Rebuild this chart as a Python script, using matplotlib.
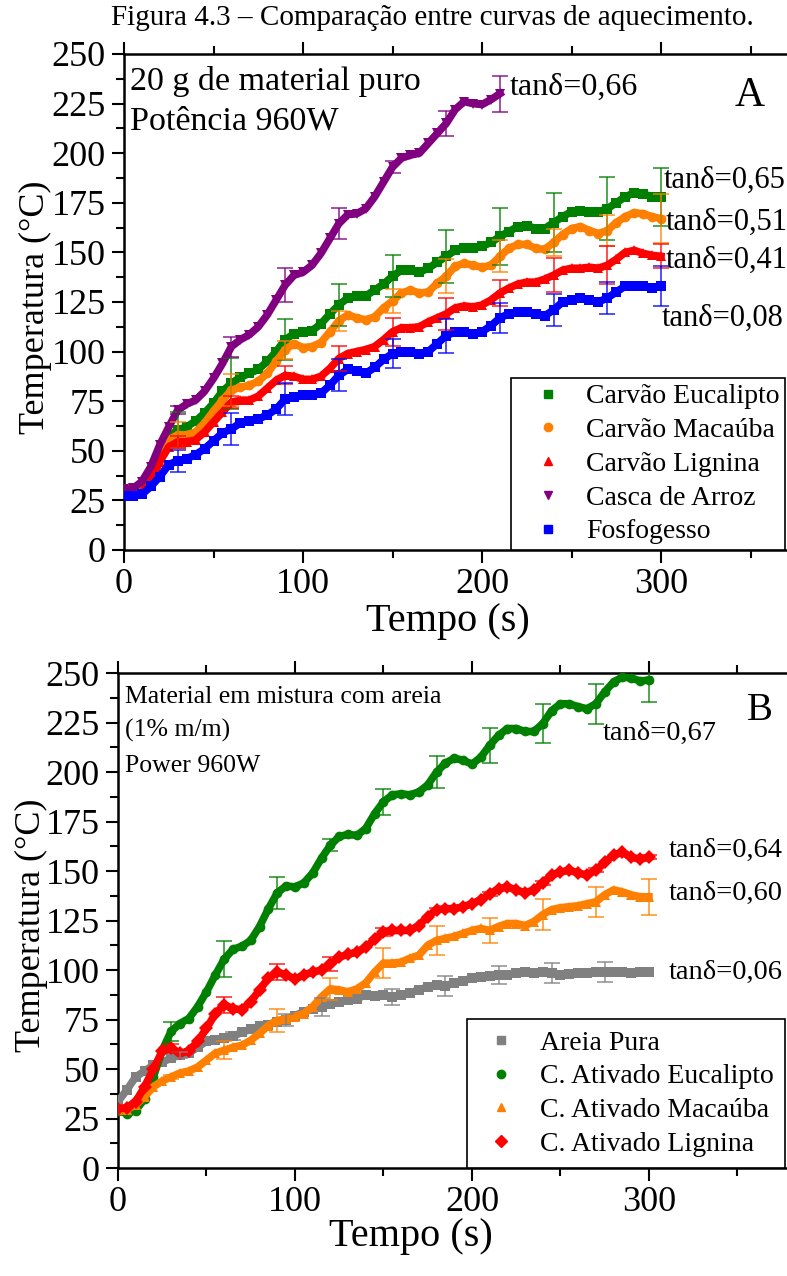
import numpy as np
import matplotlib
matplotlib.use('Agg')
import matplotlib.pyplot as plt
from matplotlib.lines import Line2D
from matplotlib.ticker import MultipleLocator

plt.rcParams['font.family'] = ['Liberation Serif', 'DejaVu Serif']

# time axis (s), readings every 5 s
t = np.arange(0, 301, 5)
t_casca = np.arange(0, 211, 5)
t_err = np.arange(30, 301, 30)
t_err_casca = np.arange(30, 211, 30)

# ---- A: 20 g of pure material ----
eucalipto_A = [28.5, 29, 31.5, 39.5, 50, 57, 60.5, 62, 65, 69, 74, 80, 84, 87, 89, 91, 95, 100, 106, 109, 110,
               110.5, 114, 119, 123.5, 127, 128, 128, 131, 134, 138, 141, 141, 140, 142, 145, 148, 151, 152, 152,
               153, 155, 158, 160.5, 163, 163.5, 162, 162, 165, 168, 170.5, 171, 170.5, 170.5, 172, 175, 178, 180,
               179.5, 178, 178]
macauba_A = [28, 28, 30, 37, 48, 55.5, 58, 58, 59.5, 64, 70, 75.5, 80.5, 82, 83, 85, 89, 95, 101, 104, 102,
             102.5, 104.5, 110, 115.5, 118.5, 117, 116, 117.5, 122, 125.5, 129.5, 131, 129.5, 130, 134.5, 138, 143,
             144.5, 143.5, 142.5, 143.5, 148, 152, 154, 154, 152, 151.5, 155, 159, 162, 163, 161, 159.5, 161, 165,
             168, 170, 169.5, 168, 167]
lignina_A = [27.5, 27.5, 29, 34.5, 44.5, 52, 54.5, 54.5, 55.5, 59.5, 64.5, 69.5, 74.5, 75.5, 75.5, 77.5, 81.5, 85.5,
             88, 87.5, 86,
             86, 87.5, 91.5, 96.5, 99, 100, 101, 102.5, 106, 110, 112, 112, 112.5, 115, 117, 119, 122, 123, 122.5,
             123.5, 126, 129.5, 132, 134, 135, 135, 136.5, 138.5, 141, 142, 142, 142.5, 142, 143.5, 146.5, 150, 151,
             149.5, 148.5, 148]
casca_A = [30.5, 31, 34.5, 42, 53, 62, 70.5, 73.5, 75.5, 80, 86.5, 94, 102.5, 106, 108.5, 112.5, 118.5, 126, 133.5,
           138.5, 140,
           143.5, 149.5, 157, 164.5, 169, 169.5, 172, 178, 185.5, 193, 197.5, 199, 200, 205, 210, 215, 222, 226, 225,
           224.5, 227, 230]
fosfogesso_A = [27, 27, 28, 32, 37, 43, 45, 46, 48, 51, 55, 59, 61, 64, 65, 66, 68, 71, 76, 77, 78,
                78, 79, 83, 88, 91, 90, 89, 92, 96, 99, 100, 100, 99, 100, 104, 108, 110, 110, 109, 110,
                113, 117, 119, 120, 120, 119, 118, 121, 125, 126, 127, 126, 125, 127, 130, 133, 133, 133, 132, 133]

err_eucalipto_A = [9, 13, 10.5, 10.5, 10.5, 13.5, 14.5, 15, 16, 14.5]
err_macauba_A = [6.5, 8, 4.5, 5, 6, 8.5, 8, 7, 8, 12.5]
err_lignina_A = [3, 3, 4.5, 6.5, 7, 8, 6.5, 8.5, 9.5, 6]
err_casca_A = [2, 5, 8.5, 8, 3, 6.5, 9]
err_fosfogesso_A = [5.5, 8, 8, 8, 7.5, 8.5, 7.5, 8, 8, 10]

labels_A = ['Carvão Eucalipto', 'Carvão Macaúba', 'Carvão Lignina', 'Casca de Arroz', 'Fosfogesso']
tand_A = ['0,65', '0,51', '0,41', '0,66', '0,08']

# ---- B: 1% (m/m) mixed with sand ----
areia_B = [33.5, 39.5, 46, 49, 52, 53.5, 55.5, 57, 58, 61, 64, 64.5, 65.5, 66.5, 68.5, 70, 71.5, 72.5, 74, 75, 77,
           79, 80.5, 81.5, 83, 84, 85, 85.5, 87.5, 87, 87.5, 86.5, 87.5, 88.5, 90, 91.5, 92.5, 92, 93.5, 94.5, 96,
           96.5, 97, 97.5, 97.5, 98.5, 99, 98.5, 99, 98.5, 97.5, 98, 98.5, 98.5, 99, 99, 99, 99, 98.5, 99, 99]
eucalipto_B = [29, 27.5, 29, 35, 46, 59.5, 69, 73, 75.5, 81.5, 89, 97.5, 105.5, 110.5, 112, 115, 122, 131, 139,
               142.5, 142,
               144, 149, 156.5, 163, 167.5, 168.5, 168, 171.5, 179, 185, 188.5, 189, 188.5, 190, 193.5, 200, 204.5,
               207, 206, 204, 207.5, 213.5, 218.5, 222, 222, 220.5, 220.5, 224.5, 231, 234.5, 234.5, 233, 232,
               234.5, 240.5, 245.5, 248, 247.5, 246, 246.5]
macauba_B = [29.5, 29.5, 32, 36, 41, 44, 46, 48, 49, 51, 54.5, 58, 59.5, 61, 62, 64.5, 68, 72, 74.5, 75.5, 76.5,
             78, 81.5, 86.5, 90.5, 90, 89, 90.5, 93.5, 99, 103.5, 103.5, 104, 106, 107.5, 112.5, 115, 116, 117,
             118.5, 120, 121, 120, 122, 123.5, 123.5, 122.5, 124.5, 128, 130.5, 131.5, 132, 132.5, 133.5, 134.5,
             138, 140.5, 139.5, 138, 137, 137]
lignina_B = [30, 30.5, 33.5, 41, 50, 59, 60.5, 58, 59, 64, 70.5, 78, 82.5, 80.5, 80, 84, 90, 96, 99, 97.5, 95.5,
             97.5, 99, 100, 103, 106.5, 108, 109, 111.5, 115.5, 119, 120, 120, 120, 122.5, 127, 130.5, 131, 131,
             132, 133.5, 135.5, 138.5, 141, 142, 140.5, 139, 140.5, 144, 148, 149.5, 150.5, 149, 148, 150.5, 154.5,
             158, 159.5, 157, 156, 157]

t_err_areia = np.array([35, 65, 95, 115, 155, 185, 215, 245, 275])
err_areia_B = [1.5, 2, 3, 4.5, 4, 5, 4.5, 5, 5]
err_eucalipto_B = [5, 9, 8, 3, 6.5, 8, 9, 10, 10, 11]
err_macauba_B = [1, 4.5, 6, 5.5, 7.5, 7.5, 6.5, 8, 7.5, 9]
err_lignina_B = [2, 4, 4, 3.5, 2, 1, 1, 1, 1, 1]

labels_B = ['Areia Pura', 'C. Ativado Eucalipto', 'C. Ativado Macaúba', 'C. Ativado Lignina']
tand_B = ['0,06', '0,67', '0,60', '0,64']

GREEN, ORANGE, RED, PURPLE, BLUE, GREY = '#008000', '#FF8000', '#FF0000', '#800080', '#0000FF', '#808080'


def draw(ax, x, y, color, marker, xe, he):
    y = np.asarray(y, dtype=float)
    ye = y[np.searchsorted(x, xe)]
    ax.plot(x, y, '-', color=color, lw=5.5, marker=marker, ms=7, mew=0, zorder=3)
    ax.errorbar(xe, ye, yerr=he, fmt='none', ecolor=color, elinewidth=1.3,
                capsize=6, capthick=1.3, alpha=0.75, zorder=4)


def style(ax, xmax, ylab_x):
    ax.set_xlim(0, xmax)
    ax.set_ylim(0, 250)
    ax.xaxis.set_major_locator(MultipleLocator(100))
    ax.xaxis.set_minor_locator(MultipleLocator(50))
    ax.yaxis.set_major_locator(MultipleLocator(25))
    ax.yaxis.set_minor_locator(MultipleLocator(12.5))
    ax.tick_params(which='both', direction='out', width=1.5, labelsize=26, top=True)
    ax.tick_params(which='major', length=9, pad=4)
    ax.tick_params(which='minor', length=6)
    ax.spines['right'].set_visible(False)
    for s in ['left', 'bottom', 'top']:
        ax.spines[s].set_linewidth(1.8)
    ax.set_xlabel('Tempo (s)', fontsize=29)
    ax.set_ylabel('Temperatura (°C)', fontsize=26)
    ax.yaxis.set_label_coords(ylab_x, 0.49)


def legend(ax, handles, labels, x0, pad, hlen, tpad):
    leg = ax.legend(handles, labels, loc='lower left', bbox_to_anchor=(x0, 0.0), borderaxespad=0,
                    fontsize=20, frameon=True, fancybox=False, edgecolor='black', framealpha=1,
                    borderpad=pad, handlelength=hlen, handletextpad=tpad, labelspacing=0.3)
    leg.get_frame().set_linewidth(1.2)


fig = plt.figure(figsize=(7.87, 12.76), dpi=100)
fig.text(0.549, 0.986, 'Figura 4.3 – Comparação entre curvas de aquecimento.',
         ha='center', va='center', fontsize=21)

# panel A
ax1 = fig.add_axes([0.1576, 0.5690, 0.8461, 0.3887])
draw(ax1, t, eucalipto_A, GREEN, 's', t_err, err_eucalipto_A)
draw(ax1, t, macauba_A, ORANGE, 'o', t_err, err_macauba_A)
draw(ax1, t, lignina_A, RED, '^', t_err, err_lignina_A)
draw(ax1, t_casca, casca_A, PURPLE, 'v', t_err_casca, err_casca_A)
draw(ax1, t, fosfogesso_A, BLUE, 's', t_err, err_fosfogesso_A)
style(ax1, 372, -0.108)
ax1.xaxis.set_label_coords(0.4865, -0.107)

ax1.text(3.4, 231.9, '20 g de material puro', fontsize=24.5)
ax1.text(3.4, 211.7, 'Potência 960W', fontsize=24.5)
ax1.text(349.7, 228.8, 'A', fontsize=30, ha='center', va='center')
ax1.text(215.6, 233.4, 'tanδ=' + tand_A[3], fontsize=23, va='center')
ax1.text(301.5, 186.5, 'tanδ=' + tand_A[0], fontsize=22, va='center')
ax1.text(302.5, 165.3, 'tanδ=' + tand_A[1], fontsize=22, va='center')
ax1.text(302.5, 146.2, 'tanδ=' + tand_A[2], fontsize=22, va='center')
ax1.text(300.5, 116.9, 'tanδ=' + tand_A[4], fontsize=22, va='center')

handles_A = [Line2D([], [], ls='none', marker=m, color=c, ms=6)
             for m, c in zip(['s', 'o', '^', 'v', 's'], [GREEN, ORANGE, RED, PURPLE, BLUE])]
legend(ax1, handles_A, labels_A, 0.581, 0.2, 2.3, 0.2)

# panel B
ax2 = fig.add_axes([0.1499, 0.0846, 0.8501, 0.3879])
draw(ax2, t, areia_B, GREY, 's', t_err_areia, err_areia_B)
draw(ax2, t, eucalipto_B, GREEN, 'o', t_err, err_eucalipto_B)
draw(ax2, t, macauba_B, ORANGE, '^', t_err, err_macauba_B)
draw(ax2, t, lignina_B, RED, 'D', t_err, err_lignina_B)
style(ax2, 378, -0.1046)
ax2.xaxis.set_label_coords(0.438, -0.101)

ax2.text(4, 234.8, 'Material em mistura com areia', fontsize=18.5)
ax2.text(4, 217.7, '(1% m/m)', fontsize=18.5)
ax2.text(4, 200.2, 'Power 960W', fontsize=18.5)
ax2.text(362.7, 231.3, 'B', fontsize=28, ha='center', va='center')
ax2.text(274, 219.7, 'tanδ=' + tand_B[1], fontsize=20.5, va='center')
ax2.text(311.3, 160.6, 'tanδ=' + tand_B[3], fontsize=20.5, va='center')
ax2.text(311.3, 138.9, 'tanδ=' + tand_B[2], fontsize=20.5, va='center')
ax2.text(311.3, 99, 'tanδ=' + tand_B[0], fontsize=20.5, va='center')

handles_B = [Line2D([], [], ls='none', marker=m, color=c, ms=6)
             for m, c in zip(['s', 'o', '^', 'D'], [GREY, GREEN, ORANGE, RED])]
legend(ax2, handles_B, labels_B, 0.5217, 0.4, 1.65, 0.58)

plt.savefig('out.png', dpi=100)
